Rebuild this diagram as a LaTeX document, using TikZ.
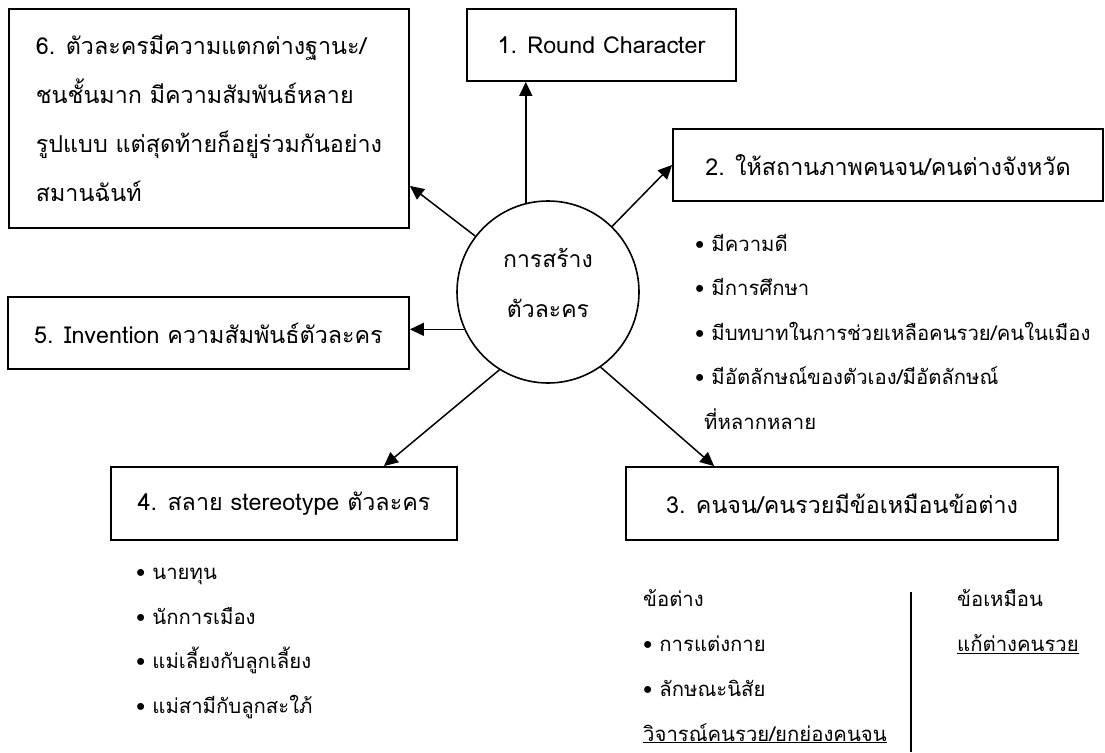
\documentclass[tikz,border=0pt]{standalone}
\usepackage{fontspec}
\setmainfont[Script=Thai]{Loma}
\usetikzlibrary{arrows.meta}

\tikzset{
  topic/.style = {draw, line width = 1.8pt, inner sep = 0pt, align = left,
                  font = \fontsize{23.3}{49}\selectfont},
  hub/.style = {shape = circle, draw, line width = 1.6pt, minimum size = 182pt,
                inner sep = 0pt, align = center, text depth = 18pt,
                font = \fontsize{23}{50}\selectfont},
  arrow/.style = {-{Triangle[length = 14pt, width = 13pt]}, line width = 1.5pt},
  note/.style = {inner sep = 0pt, align = left, font = \fontsize{20.3}{44.5}\selectfont}
}

\begin{document}
\begin{tikzpicture}[x = 1pt, y = -1pt]
    \useasboundingbox (0,0) rectangle (1105,752);

    % centre
    \node [hub] (core) at (548,292) {การสร้าง\\ตัวละคร};

    % the six boxes
    \node [topic, minimum width = 269pt, minimum height = 72pt] (one) at (601.5,45) {1. Round Character};
    \node [topic, minimum width = 430pt, minimum height = 72pt] (two) at (888,165) {2. ให้สถานภาพคนจน/คนต่างจังหวัด};
    \node [topic, minimum width = 432pt, minimum height = 73pt] (three) at (842,503.5) {3. คนจน/คนรวยมีข้อเหมือนข้อต่าง};
    \node [topic, minimum width = 346pt, minimum height = 73pt] (four) at (284,503.5) {4. สลาย stereotype ตัวละคร};
    \node [topic, minimum width = 401pt, minimum height = 72pt] (five) at (208.5,333) {5. Invention ความสัมพันธ์ตัวละคร};
    \node [topic, minimum width = 400pt, minimum height = 219pt] (six) at (209,118.5)
        {6. ตัวละครมีความแตกต่างฐานะ/\\ชนชั้นมาก มีความสัมพันธ์หลาย\\รูปแบบ แต่สุดท้ายก็อยู่ร่วมกันอย่าง\\สมานฉันท์};

    \draw [arrow] (core.104) to (core.104 |- one.south);
    \draw [arrow] (core) to (two.west);
    \draw [arrow] (core.305) to ([xshift = 89pt]three.north west);
    \draw [arrow] (core.238) to ([xshift = -74pt]four.north east);
    \draw [arrow] (core.204) to (core.204 -| five.east);
    \draw [arrow] (core) to ([yshift = 43pt]six.south east);

    % notes
    \node [note, anchor = north west] (poor) at (695,234)
        {• มีความดี\\• มีการศึกษา\\• มีบทบาทในการช่วยเหลือคนรวย/คนในเมือง\\• มีอัตลักษณ์ของตัวเอง/มีอัตลักษณ์\\\hspace{9pt}ที่หลากหลาย};
    \node [note, anchor = north west] (types) at (136,568)
        {• นายทุน\\• นักการเมือง\\• แม่เลี้ยงกับลูกเลี้ยง\\• แม่สามีกับลูกสะใภ้};
    \node [note, anchor = north west, font = \fontsize{20.3}{45}\selectfont] (differ) at (643,589)
        {ข้อต่าง\\• การแต่งกาย\\• ลักษณะนิสัย\\\underline{วิจารณ์คนรวย/ยกย่องคนจน}};
    \node [note, anchor = north west, font = \fontsize{20.3}{45}\selectfont] (same) at (957,589)
        {ข้อเหมือน\\\underline{แก้ต่างคนรวย}};
    \draw [line width = 1.5pt] (911,592) to (911,752);
\end{tikzpicture}
\end{document}
